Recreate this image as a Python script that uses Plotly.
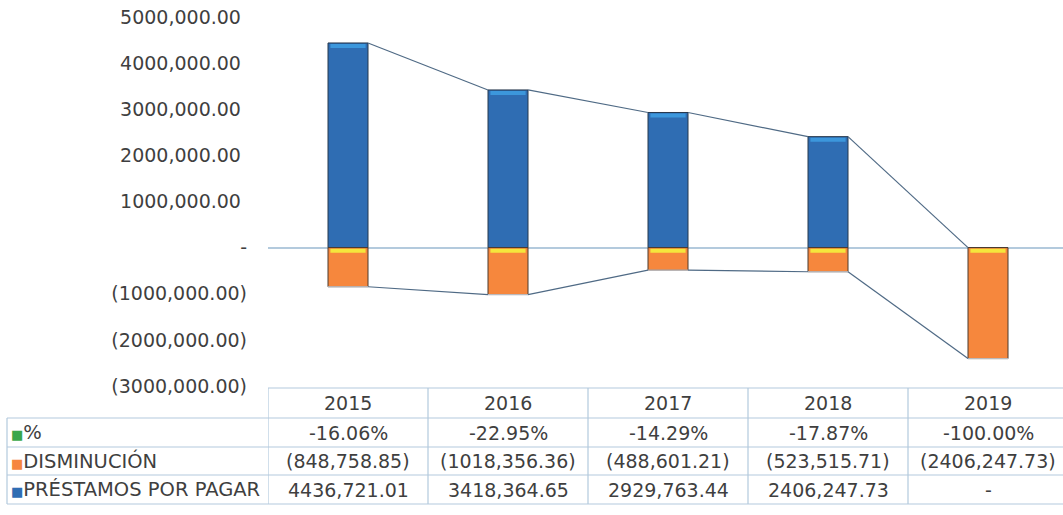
import plotly.graph_objects as go

# data
years = ["2015", "2016", "2017", "2018", "2019"]
pct = [-16.06, -22.95, -14.29, -17.87, -100.00]
disminucion = [-848758.85, -1018356.36, -488601.21, -523515.71, -2406247.73]
prestamos = [4436721.01, 3418364.65, 2929763.44, 2406247.73, 0]
series_names = ["%", "DISMINUCIÓN", "PRÉSTAMOS POR PAGAR"]
y_ticks = [5000000, 4000000, 3000000, 2000000, 1000000, 0, -1000000, -2000000, -3000000]

FONT = "DejaVu Sans"
TXT = "#3f3f3f"
BLUE = "#2f6db3"
ORANGE = "#f6873d"
GREEN = "#3aa64a"
GRID = "#b3cadd"
W = 0.25


def fmt(v):
    # excel-ish accounting look: only the last thousands separator, negatives in ()
    if v == 0:
        return "-"
    ip, dp = f"{abs(v):.2f}".split(".")
    if len(ip) > 3:
        ip = ip[:-3] + "," + ip[-3:]
    s = ip + "." + dp
    return f"({s})" if v < 0 else s + "\u00a0"


x = list(range(len(years)))

fig = go.Figure()
fig.add_trace(go.Bar(x=x, y=prestamos, width=W, marker=dict(color=BLUE, line=dict(color="#26384d", width=1)),
                     name=series_names[2]))
fig.add_trace(go.Bar(x=x, y=disminucion, width=W, marker=dict(color=ORANGE, line=dict(color="#4a3a2e", width=1)),
                     name=series_names[1]))
fig.add_trace(go.Bar(x=x, y=[p / 100 for p in pct], width=W, marker=dict(color=GREEN), name=series_names[0]))

# series lines between stacked bars
for vals in (prestamos, disminucion):
    for i in range(len(x) - 1):
        fig.add_trace(go.Scatter(x=[x[i] + W / 2, x[i + 1] - W / 2], y=[vals[i], vals[i + 1]],
                                 mode="lines", line=dict(color="#4f6a85", width=1.2),
                                 hoverinfo="skip", showlegend=False))

shapes = []
# bevel highlights on the bars
for i in x:
    if disminucion[i] < 0:
        shapes.append(dict(type="rect", xref="x", yref="y", x0=i - W / 2 + 0.015, x1=i + W / 2 - 0.015,
                           ysizemode="pixel", yanchor=0, y0=-1, y1=-5,
                           fillcolor="#f5e63c", line=dict(width=0)))
    if prestamos[i] > 0:
        shapes.append(dict(type="rect", xref="x", yref="y", x0=i - W / 2 + 0.015, x1=i + W / 2 - 0.015,
                           ysizemode="pixel", yanchor=prestamos[i], y0=-1, y1=-5,
                           fillcolor="#3c97dc", line=dict(width=0)))

# data table under the plot
TOP, H = 17, 369


def py(px):
    return 1 - (px - TOP) / H


row_edges = [388, 418, 447, 475, 504]
row_mid = [(row_edges[k] + row_edges[k + 1]) / 2 for k in range(4)]
line = dict(color=GRID, width=1.2)
for k, r in enumerate(row_edges):
    shapes.append(dict(type="line", xref="x", yref="paper", x0=-0.5, x1=4.5, y0=py(r), y1=py(r), line=line))
    if k >= 1:
        shapes.append(dict(type="line", xref="paper", yref="paper", x0=-261 / 795, x1=0,
                           y0=py(r), y1=py(r), line=line))
for i in range(len(years) + 1):
    shapes.append(dict(type="line", xref="x", yref="paper", x0=i - 0.5, x1=i - 0.5,
                       y0=py(row_edges[0]), y1=py(row_edges[-1]), line=line))
shapes.append(dict(type="line", xref="paper", yref="paper", x0=-261 / 795, x1=-261 / 795,
                   y0=py(row_edges[1]), y1=py(row_edges[-1]), line=line))

ann = []
rows = [years, [f"{p:.2f}%" for p in pct], [fmt(v) for v in disminucion], [fmt(v) for v in prestamos]]
for k, row in enumerate(rows):
    for i, t in enumerate(row):
        ann.append(dict(xref="x", yref="paper", x=i, y=py(row_mid[k]), yanchor="middle",
                        text=t.strip("\u00a0"), showarrow=False,
                        font=dict(family=FONT, size=19, color=TXT)))
for k, (nm, col) in enumerate(zip(series_names, [GREEN, ORANGE, BLUE])):
    ann.append(dict(xref="paper", yref="paper", x=-259 / 795, y=py(row_mid[k + 1]),
                    xanchor="left", yanchor="middle",
                    text=f"<span style='color:{col};font-size:13px'>■</span>{nm}", showarrow=False,
                    font=dict(family=FONT, size=19.5, color=TXT)))

fig.update_layout(
    width=1063, height=515,
    margin=dict(l=268, r=0, t=TOP, b=515 - TOP - H, autoexpand=False),
    barmode="relative",
    bargap=0.75,
    showlegend=False,
    plot_bgcolor="white", paper_bgcolor="white",
    font=dict(family=FONT, size=19, color=TXT),
    xaxis=dict(range=[-0.5, 4.5 - 5 / 160], showticklabels=False, showgrid=False, zeroline=False,
               showline=False, ticks="", automargin=False),
    yaxis=dict(range=[-3000000, 5000000], tickvals=y_ticks, ticktext=[fmt(v) for v in y_ticks],
               showgrid=False, zeroline=True, zerolinecolor=GRID, zerolinewidth=1.5,
               showline=False, ticks="", ticklabelstandoff=20, automargin=False),
    shapes=shapes,
    annotations=ann,
)

# page body has a default 8px margin; drop it so the figure sits at the window corner
fig.write_html("out.html", config={"displayModeBar": False},
               post_script="document.body.style.margin='0';")
